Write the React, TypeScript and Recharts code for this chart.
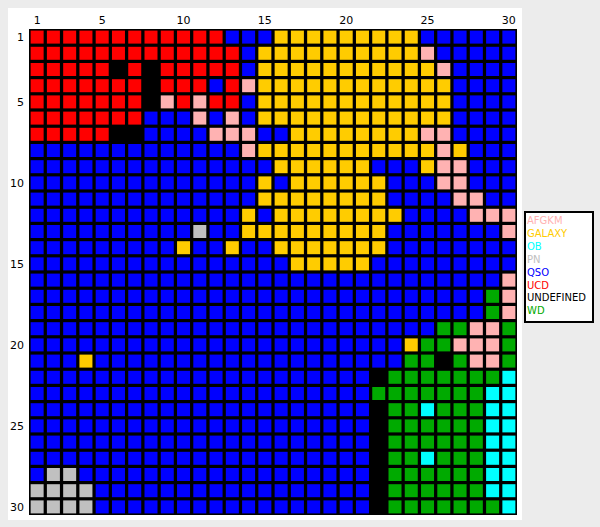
import { ScatterChart, Scatter, XAxis, YAxis, CartesianGrid, Legend } from 'recharts'

// classes of the map, their one-letter code in the grid and colour
const CLASSES = ['AFGKM', 'GALAXY', 'OB', 'PN', 'QSO', 'UCD', 'UNDEFINED', 'WD']
const CODES = ['P', 'Y', 'C', 'S', 'B', 'R', 'K', 'G']
const COLORS = ['#ffb2b2', '#ffcc00', '#00ffff', '#c0c0c0', '#0000ff', '#ff0000', '#000000', '#00aa00']

const TICKS = [1, 5, 10, 15, 20, 25, 30]

// winning class of each node, row 1 at top, column 1 at left
const GRID_ROWS = [
  'RRRRRRRRRRRRBBBYYYYYYYYYBBBBBB',
  'RRRRRRRRRRRRRBYYYYYYYYYYPBBBBB',
  'RRRRRKRKRRRRRBYYYYYYYYYYYPBBBB',
  'RRRRRRRKRRRBRPYYYYYYYYYYYYBBBB',
  'RRRRRRRKPRPRRBYYYYYYYYYYYYBBBB',
  'RRRRRRRBBBPBPBYYYYYYYYYYYYBBBB',
  'RRRRRKKBBBBPPPBBYYYYYYYYPPBBBB',
  'BBBBBBBBBBBBBPYYYYYYYYYYYPYBBB',
  'BBBBBBBBBBBBBBBYYYYYYBBBYPPBBB',
  'BBBBBBBBBBBBBBYBYYYYYYBBBPPBBB',
  'BBBBBBBBBBBBBBYYYYYYYYBBBBPPBB',
  'BBBBBBBBBBBBBYBYYYYYYYYBBBBPPP',
  'BBBBBBBBBBSBBYYYYYYYYYBBBBBBBP',
  'BBBBBBBBBYBBYBBYYYYYYYBBBBBBBB',
  'BBBBBBBBBBBBBBBBYYYYYBBBBBBBBB',
  'BBBBBBBBBBBBBBBBBBBBBBBBBBBBBP',
  'BBBBBBBBBBBBBBBBBBBBBBBBBBBBGP',
  'BBBBBBBBBBBBBBBBBBBBBBBBBBBBGP',
  'BBBBBBBBBBBBBBBBBBBBBBBBBGGPPG',
  'BBBBBBBBBBBBBBBBBBBBBBBYGGPPPG',
  'BBBYBBBBBBBBBBBBBBBBBBBGGKGPPG',
  'BBBBBBBBBBBBBBBBBBBBBKGGGGGGGC',
  'BBBBBBBBBBBBBBBBBBBBBGGGGGGGCC',
  'BBBBBBBBBBBBBBBBBBBBBKGGCGGGCC',
  'BBBBBBBBBBBBBBBBBBBBBKGGGGGGCC',
  'BBBBBBBBBBBBBBBBBBBBBKGGGGGGCC',
  'BBBBBBBBBBBBBBBBBBBBBKGGCGGGCC',
  'BSSBBBBBBBBBBBBBBBBBBKGGGGGGCC',
  'SSSSBBBBBBBBBBBBBBBBBKGGGGGGCC',
  'SSSSBBBBBBBBBBBBBBBBBKGGGGGGGC',
]

const pointsFor = (code: string) => {
  const pts: { x: number; y: number }[] = []
  GRID_ROWS.forEach((row, r) => {
    row.split('').forEach((c, col) => {
      if (c === code) pts.push({ x: col + 1, y: r + 1 })
    })
  })
  return pts
}

const CELL = 13

const cellShape = (color: string) => (props: any) => (
  <rect
    x={props.cx - CELL / 2}
    y={props.cy - CELL / 2}
    width={CELL}
    height={CELL}
    fill={color}
  />
)

const tickStyle = { fontSize: 11, fill: '#000', fontFamily: 'DejaVu Sans' }

function LegendBox() {
  return (
    <div
      style={{
        background: '#fff',
        border: '2px solid #000',
        padding: '2px 1px 3px 1px',
        fontFamily: 'DejaVu Sans',
        fontSize: 10,
        lineHeight: '12.9px',
      }}
    >
      {CLASSES.map((name, i) => (
        <div key={name} style={{ color: COLORS[i], whiteSpace: 'nowrap' }}>
          {name}
        </div>
      ))}
    </div>
  )
}

export default function App() {
  return (
    <div
      style={{
        position: 'absolute',
        left: 0,
        top: 0,
        width: 600,
        height: 527,
        background: '#ececec',
        overflow: 'hidden',
      }}
    >
      <div
        style={{
          position: 'absolute',
          left: 8,
          top: 8,
          width: 514,
          height: 512,
          background: '#fff',
        }}
      />
      <div style={{ position: 'absolute', left: 0, top: 0 }}>
        <ScatterChart
          width={600}
          height={527}
          margin={{ top: 9, left: 9, right: 83, bottom: 12 }}
        >
          <CartesianGrid fill="#000" stroke="none" horizontal={false} vertical={false} />
          <XAxis
            type="number"
            dataKey="x"
            orientation="top"
            domain={[0.5, 30.5]}
            ticks={TICKS}
            height={20}
            axisLine={false}
            tickLine={false}
            tickSize={0}
            tickMargin={5}
            tick={tickStyle}
            allowDataOverflow
          />
          <YAxis
            type="number"
            dataKey="y"
            reversed
            domain={[0.5, 30.5]}
            ticks={TICKS}
            width={20}
            axisLine={false}
            tickLine={false}
            tickSize={0}
            tickMargin={5}
            tick={tickStyle}
            allowDataOverflow
          />
          <Legend
            layout="vertical"
            align="center"
            verticalAlign="middle"
            content={() => <LegendBox />}
            wrapperStyle={{ left: 524, top: 211, width: 70 }}
          />
          {CLASSES.map((name, i) => (
            <Scatter
              key={name}
              name={name}
              data={pointsFor(CODES[i])}
              fill={COLORS[i]}
              shape={cellShape(COLORS[i])}
              isAnimationActive={false}
            />
          ))}
        </ScatterChart>
      </div>
    </div>
  )
}
